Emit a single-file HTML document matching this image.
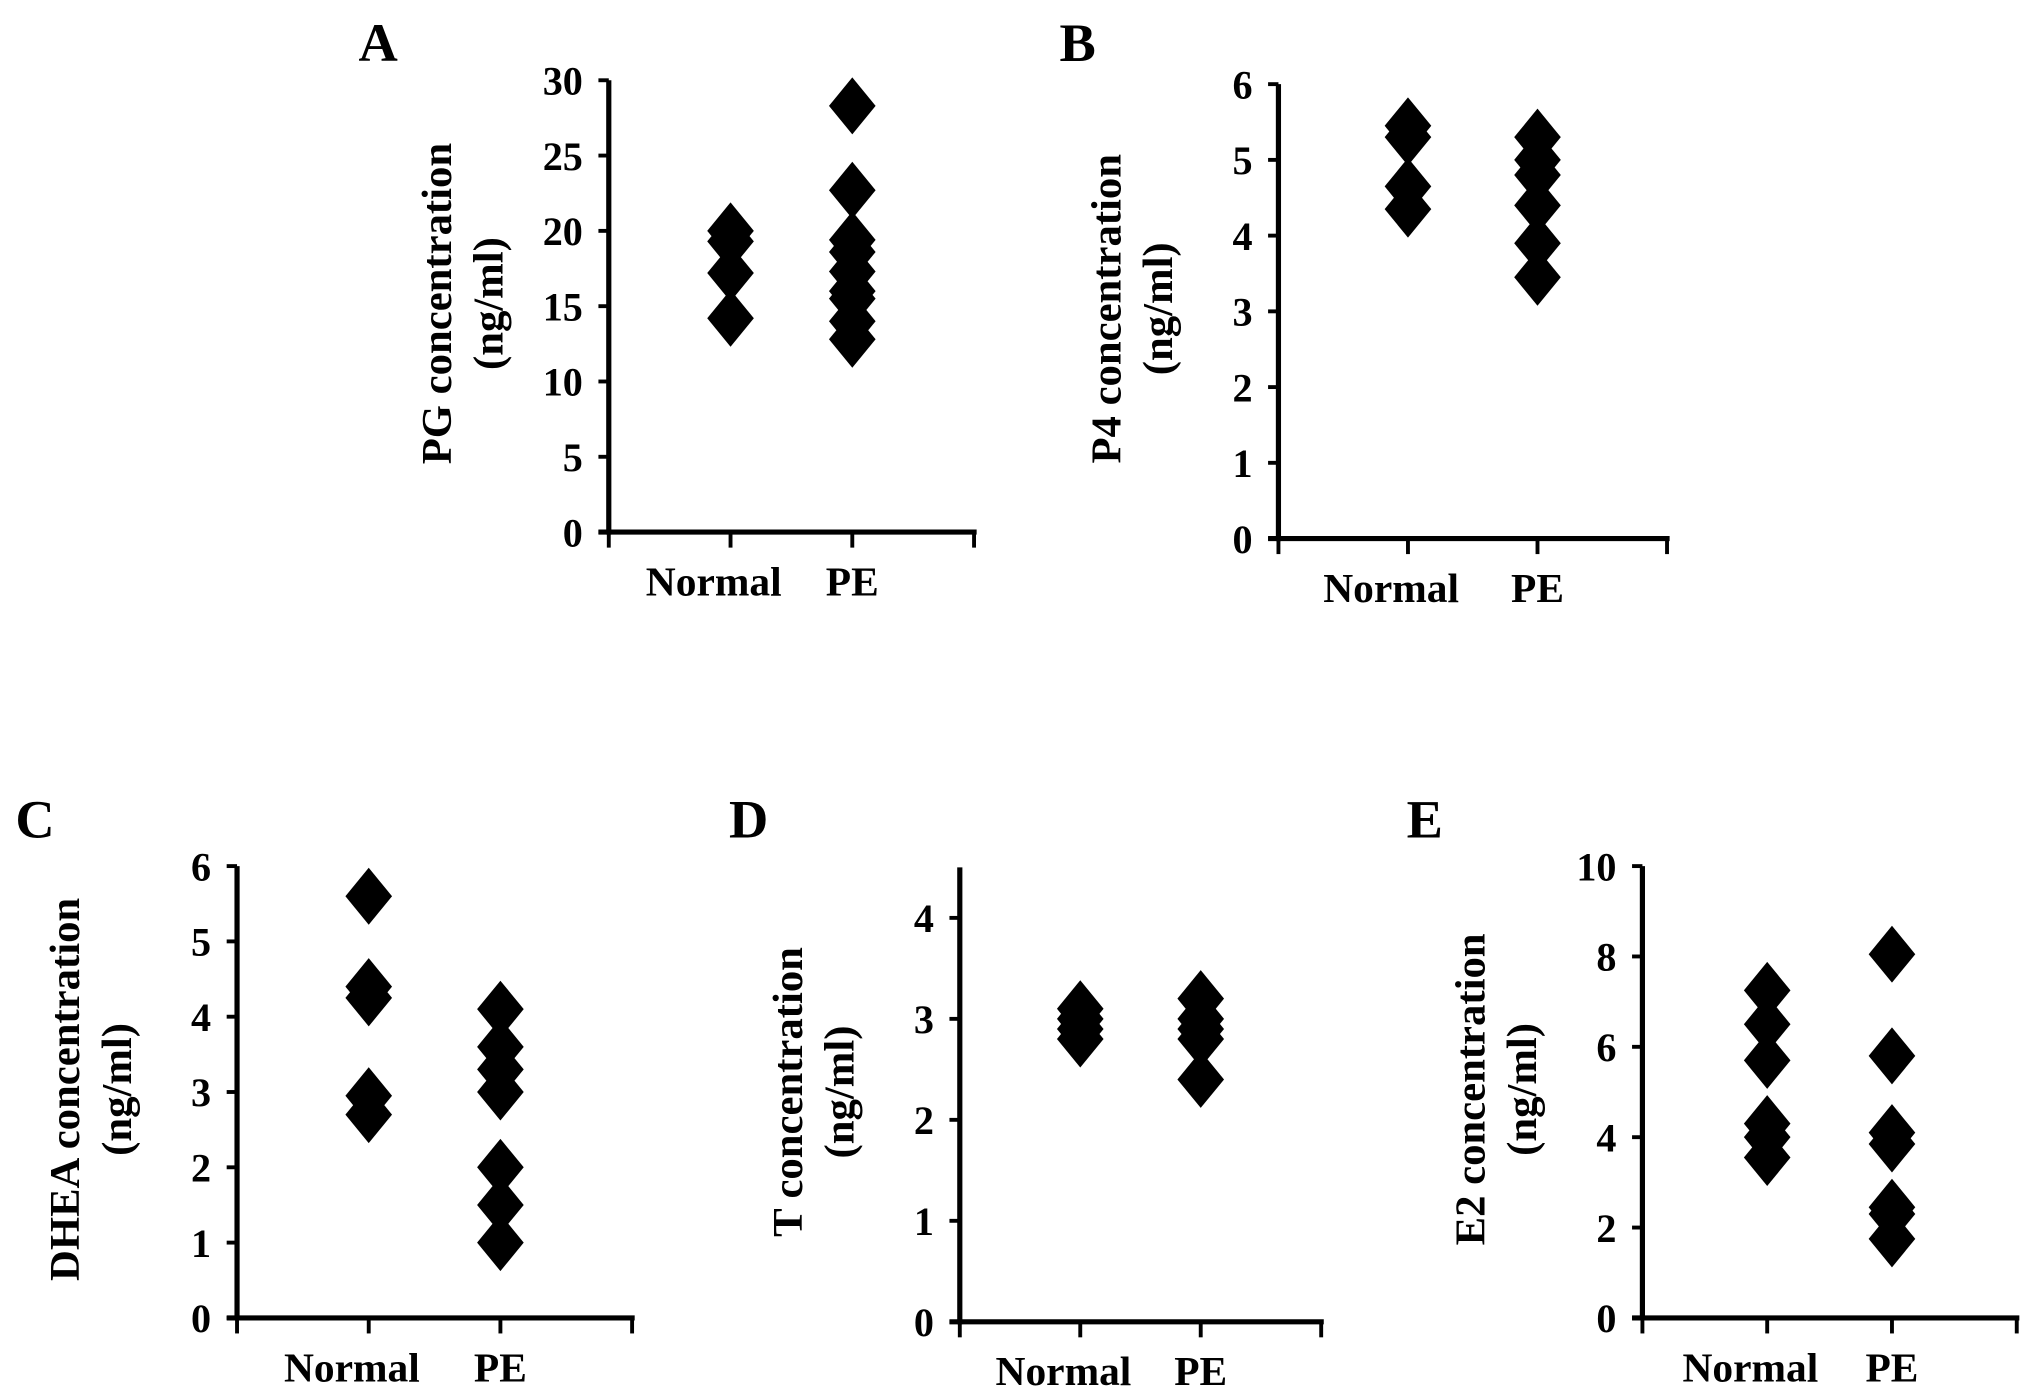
<!DOCTYPE html>
<html><head><meta charset="utf-8"><style>
html,body{margin:0;padding:0;background:#fff;}
svg{display:block;}
text{font-family:"Liberation Serif",serif;font-weight:bold;fill:#000;}
</style></head><body>
<svg id="fig" width="2031" height="1393" viewBox="0 0 1568 1076" preserveAspectRatio="none" xmlns="http://www.w3.org/2000/svg"></svg>
<script>
const categories = ["Normal","PE"];
const aNormal = [20, 19.3, 17.2, 14.2];
const aPE = [28.3, 22.7, 19.4, 18.6, 17.3, 16, 15.5, 14, 12.8];
const aTicks = [0,5,10,15,20,25,30];
const bNormal = [5.45, 5.3, 4.65, 4.35];
const bPE = [5.3, 5.0, 4.8, 4.4, 3.9, 3.45];
const bTicks = [0,1,2,3,4,5,6];
const cNormal = [5.6, 4.4, 4.25, 2.95, 2.7];
const cPE = [4.1, 3.6, 3.3, 3.0, 2.0, 1.5, 1.0];
const cTicks = [0,1,2,3,4,5,6];
const dNormal = [3.1, 3.0, 2.9, 2.8];
const dPE = [3.2, 3.0, 2.9, 2.8, 2.4];
const dTicks = [0,1,2,3,4];
const eNormal = [7.25, 6.5, 5.7, 4.3, 4.0, 3.55];
const ePE = [8.05, 5.8, 4.1, 3.85, 2.45, 2.3, 1.75];
const eTicks = [0,2,4,6,8,10];

const panels = [
 {id:"a",letter:"A",lx:292,ly:47,x0:470,x1:752,yTop:62,yBot:411,max:30,ticks:aTicks,series:[aNormal,aPE],t1:"PG concentration"},
 {id:"b",letter:"B",lx:832,ly:47,x0:987,x1:1287,yTop:65,yBot:416,max:6,ticks:bTicks,series:[bNormal,bPE],t1:"P4 concentration"},
 {id:"c",letter:"C",lx:27,ly:647,x0:183,x1:488,yTop:669,yBot:1018,max:6,ticks:cTicks,series:[cNormal,cPE],t1:"DHEA concentration"},
 {id:"d",letter:"D",lx:578,ly:647,x0:741,x1:1020,yTop:670,yBot:1021,max:4.5,ticks:dTicks,series:[dNormal,dPE],t1:"T concentration"},
 {id:"e",letter:"E",lx:1100,ly:647,x0:1268,x1:1557,yTop:669,yBot:1018,max:10,ticks:eTicks,series:[eNormal,ePE],t1:"E2 concentration"}
];
const NS="http://www.w3.org/2000/svg";
const svg=document.getElementById("fig");
function mk(tag,attrs,parent){const e=document.createElementNS(NS,tag);for(const k in attrs)e.setAttribute(k,attrs[k]);parent.appendChild(e);return e;}
panels.forEach(p=>{
 const g=mk("g",{},svg);
 
 
 const yS=v=>p.yBot-(v/p.max)*(p.yBot-p.yTop);
 const step=(p.x1-p.x0)/3;
 const xS=i=>p.x0+step*(i+1);
 const L=mk("text",{x:p.lx,y:p.ly,"font-size":42,"text-anchor":"middle"},g);L.textContent=p.letter;
 
 
 const ya=mk("line",{x1:p.x0,y1:p.yTop,x2:p.x0,y2:p.yBot+2,stroke:"#000","stroke-width":4},g);
 
 
 const xa=mk("line",{x1:p.x0-8,y1:p.yBot,x2:p.x1+2,y2:p.yBot,stroke:"#000","stroke-width":4},g);
 
 
 p.ticks.forEach(t=>{
  const y=yS(t);
  mk("line",{x1:p.x0-8,y1:y,x2:p.x0,y2:y,stroke:"#000","stroke-width":3},g);
  const tx=mk("text",{x:p.x0-20,y:y+11,"font-size":31,"text-anchor":"end"},g);tx.textContent=t;
  
  
 });
 for(let i=0;i<4;i++){const x=p.x0+step*i;mk("line",{x1:x,y1:p.yBot,x2:x,y2:p.yBot+12,stroke:"#000","stroke-width":3},g);}
 categories.forEach((c,i)=>{
  const tx=mk("text",{x:xS(i)-(i==0?13:0),y:p.yBot+49,"font-size":32,"text-anchor":"middle"},g);tx.textContent=c;
  
  
 });
 const cx=p.x0-122, cy=(p.yTop+p.yBot)/2-2;
 const tt=mk("text",{transform:`translate(${cx},${cy}) rotate(-90)`,"font-size":33,"text-anchor":"middle"},g);
 
 
 const s1=mk("tspan",{x:0,y:0},tt);s1.textContent=p.t1;
 const s2=mk("tspan",{x:0,y:40},tt);s2.textContent="(ng/ml)";
 p.series.forEach((arr,i)=>{
  const x=xS(i);
  arr.forEach(v=>{
   const y=yS(v);
   const d=mk("polygon",{points:`${x},${y-22} ${x+18},${y} ${x},${y+22} ${x-18},${y}`,fill:"#000"},g);
   
   
  });
 });
});
</script>
</body></html>
